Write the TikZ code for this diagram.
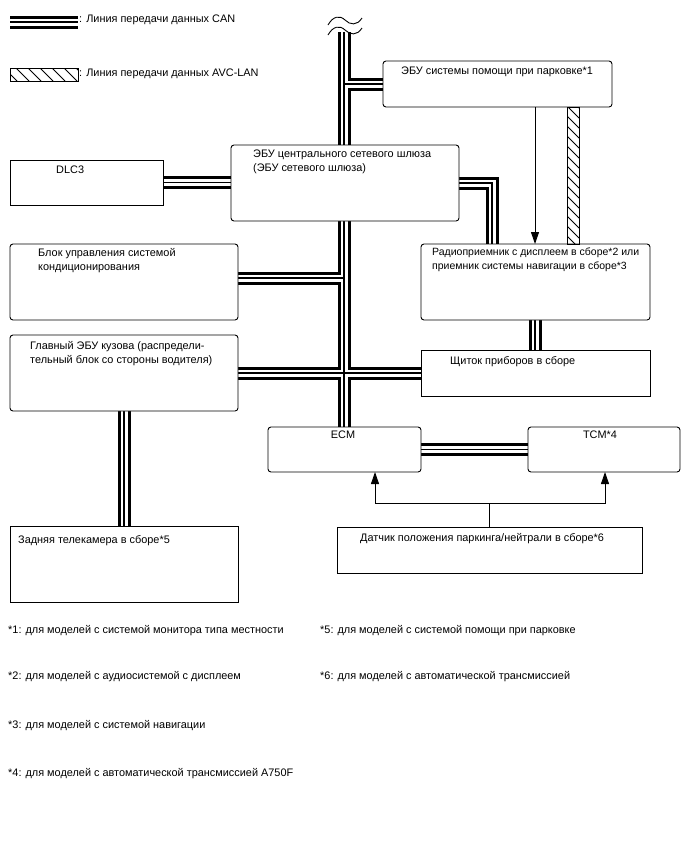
\documentclass[tikz,border=0pt]{standalone}
\usepackage{fontspec}
\setmainfont{Liberation Sans}
\usetikzlibrary{arrows.meta,backgrounds}
\newcommand\CANnet[1]{%
  \draw[#1] (lgA) -- (lgB);
  \draw[#1] (bustop) -- (bustop |- ecm.north);
  \draw[#1] (bustop |- park.west) -- (park.west);
  \draw[#1] (dlc.east) -- (dlc.east -| gw.west);
  \draw[#1] (gw.east) -| (radio.north -| gwx);
  \draw[#1] ([yshift=4pt]clim.east) -- ([yshift=4pt]clim.east -| bustop);
  \draw[#1] (body.east) -- (cluster.west);
  \draw[#1] (radio.south -| cx) -- (cluster.north -| cx);
  \draw[#1] (body.south) -- (cam.north);
  \draw[#1] (ecm.east) -- (tcm.west);
}
\begin{document}
\begin{tikzpicture}[x=1pt,y=-1pt,
  box/.style={draw, line width=0.9pt, fill=white, rounded corners=3pt, inner sep=0pt, outer sep=0pt, anchor=north west},
  sbox/.style={box, rounded corners=0pt},
  txt/.style={inner sep=0pt, anchor=north west, align=left, font=\fontsize{10.9}{14}\selectfont},
  ctxt/.style={txt, anchor=north},
  note/.style={inner sep=0pt, anchor=west, font=\fontsize{10.9}{12}\selectfont},
  thin/.style={line width=0.9pt},
  arr/.style={thin, -{Triangle[length=12pt,width=8pt]}},
  canouter/.style={line width=13pt, line join=miter},
  canwhite/.style={line width=7pt, white, line join=miter},
  cancore/.style={line width=1.2pt, line join=miter}
]
\useasboundingbox (0,0) rectangle (688,852);

% helper coordinates
\coordinate (lgA) at (10,22);
\coordinate (lgB) at (78,22);
\coordinate (bustop) at (344,32);
\coordinate (gwx) at (492,0);
\coordinate (cx) at (535,0);
\coordinate (avcL) at (567,0);
\coordinate (avcR) at (579,0);
\coordinate (ax1) at (375,0);
\coordinate (ax2) at (605,0);

% boxes
\node[box, minimum width=229pt, minimum height=46pt] (park) at (383,61) {};
\node[sbox, minimum width=153pt, minimum height=45pt] (dlc) at (10,160) {};
\node[box, minimum width=228pt, minimum height=76pt] (gw) at (231,145) {};
\node[box, minimum width=229pt, minimum height=76pt] (radio) at (421,244) {};
\node[box, minimum width=228pt, minimum height=76pt] (clim) at (10,244) {};
\node[box, minimum width=228pt, minimum height=76pt] (body) at (10,335) {};
\node[sbox, minimum width=229pt, minimum height=46pt] (cluster) at (421,350) {};
\node[box, minimum width=153pt, minimum height=45pt] (ecm) at (268,427) {};
\node[box, minimum width=152pt, minimum height=45pt] (tcm) at (528,427) {};
\node[sbox, minimum width=228pt, minimum height=76pt] (cam) at (10,526) {};
\node[sbox, minimum width=305pt, minimum height=46pt] (sensor) at (337,527) {};

% CAN lines
\begin{scope}[on background layer]
  \CANnet{canouter}
  \CANnet{canwhite}
  \CANnet{cancore}
\end{scope}

% break symbol
\draw[thin] (328,25) .. controls (333,16) and (340,15) .. (345,20) .. controls (350,25) and (357,26) .. (362,18);
\draw[thin] (328,35) .. controls (333,26) and (340,25) .. (345,30) .. controls (350,35) and (357,36) .. (362,28);

% AVC-LAN legend
\begin{scope}
  \clip (10,68) rectangle (78,81);
  \foreach \x in {4,16,...,88} \draw[thin] (\x,68) -- (\x+13,81);
\end{scope}
\draw[thin] (10,68) rectangle (78,81);

% AVC-LAN line
\begin{scope}
  \clip (avcL |- park.south) rectangle (avcR |- radio.north);
  \foreach \y in {96,106,...,250} \draw[thin] (567,\y) -- (579,\y+12);
\end{scope}
\draw[thin] (avcL |- park.south) rectangle (avcR |- radio.north);

% signal arrows
\draw[arr] (park.south -| cx) -- (radio.north -| cx);
\coordinate (sj) at ([yshift=24pt]sensor.north);
\draw[thin] (sensor.north) -- (sj);
\draw[arr] (sj) -| (ax1 |- ecm.south);
\draw[arr] (sj) -| (ax2 |- tcm.south);

% legend texts
\node[txt, anchor=west] (lt1) at (79,20) {: Линия передачи данных CAN};
\node[txt, anchor=west] (lt2) at (79,74) {: Линия передачи данных AVC-LAN};

% box texts
\node[ctxt] (tpark) at (497,67) {ЭБУ системы помощи при парковке*1};
\node[txt] (tdlc) at (56,166) {DLC3};
\node[txt] (tgw) at (253,150) {ЭБУ центрального сетевого шлюза\\(ЭБУ сетевого шлюза)};
\node[txt] (tclim) at (38,248) {Блок управления системой\\кондиционирования};
\node[txt, font=\fontsize{10.5}{14}\selectfont] (tradio) at (432,248) {Радиоприемник с дисплеем в сборе*2 или\\приемник системы навигации в сборе*3};
\node[txt] (tbody) at (30,341) {Главный ЭБУ кузова (распредели-\\тельный блок со стороны водителя)};
\node[txt] (tcl) at (450,356) {Щиток приборов в сборе};
\node[ctxt] (tecm) at (343,431) {ECM};
\node[ctxt] (ttcm) at (600,431) {TCM*4};
\node[txt] (tcam) at (18,535) {Задняя телекамера в сборе*5};
\node[txt] (tsen) at (360,533) {Датчик положения паркинга/нейтрали в сборе*6};

% footnotes
\node[note] (n1) at (8,631) {*1: для моделей с системой монитора типа местности};
\node[note] (n2) at (8,677) {*2: для моделей с аудиосистемой с дисплеем};
\node[note] (n3) at (8,726) {*3: для моделей с системой навигации};
\node[note] (n4) at (8,774) {*4: для моделей с автоматической трансмиссией A750F};
\node[note] (n5) at (320,631) {*5: для моделей с системой помощи при парковке};
\node[note] (n6) at (320,677) {*6: для моделей с автоматической трансмиссией};
\end{tikzpicture}
\end{document}
